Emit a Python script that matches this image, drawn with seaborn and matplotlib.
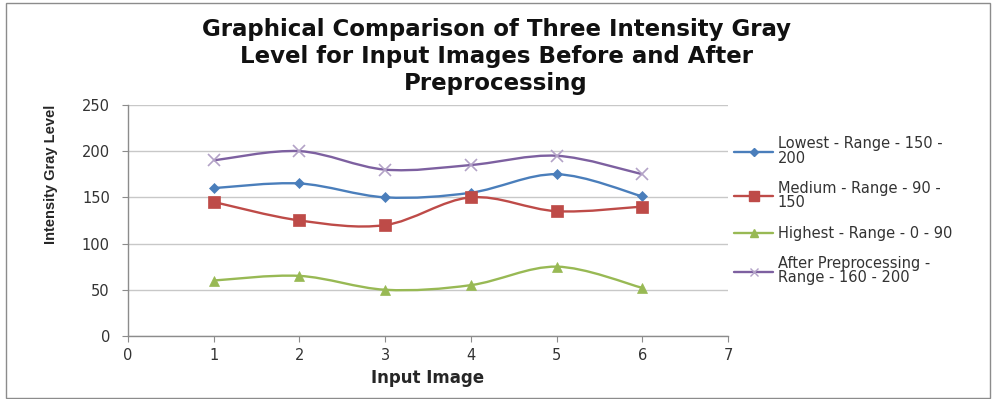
import numpy as np
import pandas as pd
import matplotlib.pyplot as plt
import seaborn as sns
from matplotlib.path import Path
from matplotlib.patches import PathPatch, Rectangle

# -------------------------------
# Data
# -------------------------------
images = [1, 2, 3, 4, 5, 6]
lowest = [160, 165, 150, 155, 175, 151]
medium = [145, 125, 120, 150, 135, 140]
highest = [60, 65, 50, 55, 75, 52]
after = [190, 200, 180, 185, 195, 175]

labels = [
    "Lowest - Range - 150 -\n200",
    "Medium - Range - 90 -\n150",
    "Highest - Range - 0 - 90",
    "After Preprocessing -\nRange - 160 - 200",
]
colors = ["#4A7EBB", "#BE4B48", "#98B954", "#7D60A0"]
marker_colors = ["#4A7EBB", "#BE4B48", "#98B954", "#B3A2C7"]
markers = ["D", "s", "^", "x"]
msizes = [5, 9, 7, 8]

df = pd.DataFrame({
    "image": images * 4,
    "value": lowest + medium + highest + after,
    "series": [l for l in labels for _ in images],
})

sns.set_theme(style="white")
plt.rcParams["font.family"] = ["DejaVu Sans"]

fig = plt.figure(figsize=(9.92, 3.99), dpi=100)
ax = fig.add_axes([0.129, 0.158, 0.605, 0.579])

# outer chart border
fig.patches.append(Rectangle((0.006, 0.003), 0.992, 0.99, transform=fig.transFigure,
                             fill=False, edgecolor="#8c8c8c", linewidth=1.0))


def smooth_path(xs, ys):
    # Excel-style smoothed line: cubic Bezier through each point
    pts = np.column_stack([xs, ys]).astype(float)
    ext = np.vstack([pts[0], pts, pts[-1]])
    verts = [pts[0]]
    codes = [Path.MOVETO]
    for i in range(len(pts) - 1):
        p0, p1, p2, p3 = ext[i], ext[i + 1], ext[i + 2], ext[i + 3]
        verts += [p1 + (p2 - p0) / 6, p2 - (p3 - p1) / 6, p2]
        codes += [Path.CURVE4] * 3
    return Path(verts, codes)


for lab, col, mcol, mk, ms in zip(labels, colors, marker_colors, markers, msizes):
    sub = df[df["series"] == lab]
    ax.add_patch(PathPatch(smooth_path(sub["image"], sub["value"]), fill=False,
                           edgecolor=col, linewidth=1.7, zorder=2))
    sns.lineplot(data=sub, x="image", y="value", ax=ax, linestyle="none",
                 marker=mk, markersize=ms, color=mcol, markeredgecolor=mcol,
                 markeredgewidth=1.2 if mk == "x" else 0.5, zorder=3, legend=False)
    ax.plot([], [], color=col, linewidth=1.7, marker=mk, markersize=ms * 0.8,
            markerfacecolor=mcol, markeredgecolor=mcol, label=lab)

ax.set_xlim(0, 7)
ax.set_ylim(0, 250)
ax.set_xticks(range(0, 8))
ax.set_yticks(range(0, 251, 50))
ax.yaxis.grid(True, color="#c8c8c8", linewidth=1.0)
ax.set_axisbelow(True)
for side in ["top", "right"]:
    ax.spines[side].set_visible(False)
for side in ["left", "bottom"]:
    ax.spines[side].set_color("#8c8c8c")
    ax.spines[side].set_linewidth(1.0)
ax.tick_params(axis="both", which="both", direction="out", length=4, width=0.8,
               color="#8c8c8c", labelsize=10.5, labelcolor="#333333")
ax.tick_params(axis="y", left=True, length=4, pad=9)
ax.tick_params(axis="x", bottom=True, pad=5)

ax.set_xlabel("Input Image", fontsize=12, fontweight="bold", labelpad=4)
ax.set_ylabel("Intensity Gray Level", fontsize=10.5, fontweight="bold",
              family=["Liberation Sans", "DejaVu Sans"])
ax.yaxis.set_label_coords(-0.117, 0.70)

fig.text(0.5, 0.955, "Graphical Comparison of Three Intensity Gray\n"
         "Level for Input Images Before and After\nPreprocessing",
         ha="center", va="top", fontsize=16.5, fontweight="bold",
         linespacing=1.22, color="#111111")

leg = ax.legend(loc="upper left", bbox_to_anchor=(1.0, 0.89), frameon=False,
                fontsize=10.5, handlelength=2.7, handletextpad=0.3, labelspacing=1.05,
                borderaxespad=0.0, labelcolor="#333333")
for t in leg.get_texts():
    t.set_linespacing(0.95)

plt.savefig("out.png", dpi=100)
plt.close()
